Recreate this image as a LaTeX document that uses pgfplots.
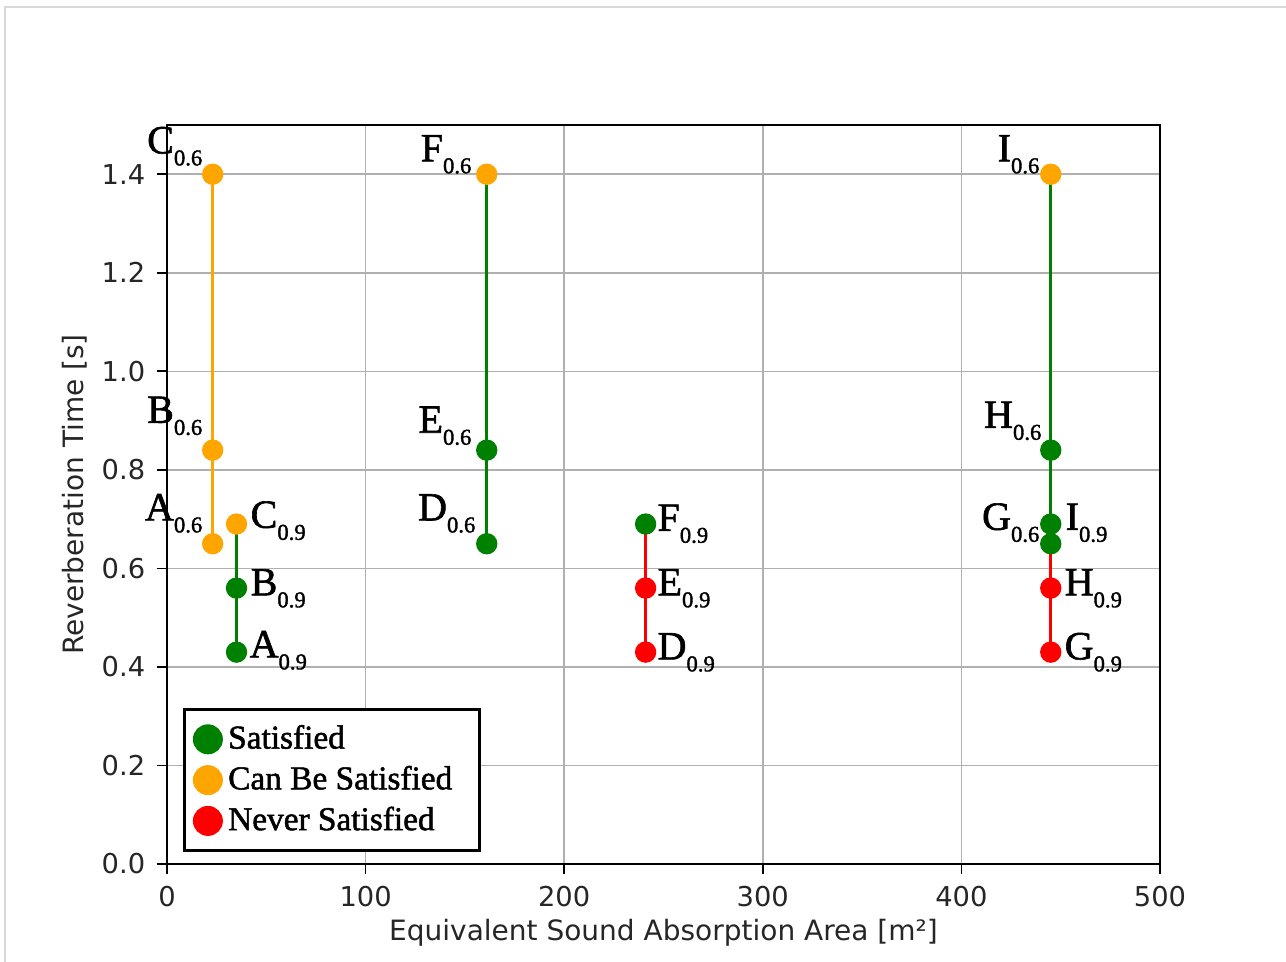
\documentclass[border=0pt]{standalone}
\usepackage{fontspec}
\setmainfont{DejaVu Sans}
\newfontfamily\tnr[FakeBold=1.5]{Liberation Serif}
\usepackage{pgfplots}
\pgfplotsset{compat=1.18}
\definecolor{mgreen}{HTML}{008000}
\definecolor{morange}{HTML}{FFA500}
\definecolor{mred}{HTML}{FF0000}
\definecolor{gridgray}{HTML}{B0B0B0}
\newcommand{\lab}[2]{{\tnr\fontsize{12}{13}\selectfont #1\raisebox{-3.6pt}{\fontsize{6.8}{7}\selectfont #2}}}
\begin{document}
\begin{tikzpicture}
\useasboundingbox (-50.1pt,-29.4pt) rectangle (335.7pt,259.2pt);
\begin{axis}[
  scale only axis,
  width=297.9pt, height=221.7pt,
  xmin=0, xmax=500, ymin=0, ymax=1.5,
  xtick={0,100,200,300,400,500},
  ytick={0,0.2,0.4,0.6,0.8,1.0,1.2,1.4},
  yticklabel style={/pgf/number format/.cd, fixed, fixed zerofill, precision=1},
  /pgf/number format/assume math mode=true,
  tick label style={font=\fontsize{8.2}{9}\selectfont, text=black!85},
  tick align=outside, major tick length=3pt,
  tick style={black, line width=0.5pt},
  xtick pos=bottom, ytick pos=left,
  axis line style={black, line width=0.6pt},
  grid=major, grid style={gridgray, line width=0.45pt},
  xlabel={Equivalent Sound Absorption Area [m²]},
  ylabel={Reverberation Time [s]},
  label style={font=\fontsize{8.4}{9}\selectfont, text=black!85},
  xlabel style={at={(axis description cs:0.5,-0.0934)}, anchor=center},
  ylabel style={at={(axis description cs:-0.0926,0.5)}, anchor=center},
  clip=false,
  legend style={at={(0.016,0.016)}, anchor=south west, draw=black, line width=1pt,
    fill=white, font=\tnr\fontsize{10}{12}\selectfont, inner xsep=2.5pt, inner ysep=3pt,
    row sep=0.5pt, nodes={inner sep=1.6pt}},
  legend cell align=left,
  legend image code/.code={\fill[#1] (3pt,0pt) circle (4pt);},
]
\addlegendimage{mgreen, fill=mgreen}
\addlegendentry{Satisfied}
\addlegendimage{morange, fill=morange}
\addlegendentry{Can Be Satisfied\kern4pt}
\addlegendimage{mred, fill=mred}
\addlegendentry{Never Satisfied}
% vertical lines
\addplot[morange, line width=0.9pt, forget plot] coordinates {(23,0.65) (23,1.4)};
\addplot[mgreen, line width=0.9pt, forget plot] coordinates {(35,0.43) (35,0.69)};
\addplot[mgreen, line width=0.9pt, forget plot] coordinates {(161,0.65) (161,1.4)};
\addplot[mred, line width=0.9pt, forget plot] coordinates {(241,0.43) (241,0.69)};
\addplot[mred, line width=0.9pt, forget plot] coordinates {(445,0.43) (445,0.69)};
\addplot[mgreen, line width=0.9pt, forget plot] coordinates {(445,0.65) (445,1.4)};
% markers
\addplot[only marks, mark=*, mark size=3pt, morange, mark options={fill=morange, draw=morange}, forget plot]
  coordinates {(23,1.4) (23,0.84) (23,0.65) (35,0.69) (161,1.4) (445,1.4)};
\addplot[only marks, mark=*, mark size=3pt, mred, mark options={fill=mred, draw=mred}, forget plot]
  coordinates {(241,0.56) (241,0.43) (445,0.56) (445,0.43)};
\addplot[only marks, mark=*, mark size=3pt, mgreen, mark options={fill=mgreen, draw=mgreen}, forget plot]
  coordinates {(35,0.56) (35,0.43) (161,0.84) (161,0.65) (241,0.69) (445,0.84) (445,0.65) (445,0.69)};
% point labels
\node[anchor=south east, inner sep=0pt] at (axis cs:18.1,1.416) {\lab{C}{0.6}};
\node[anchor=south east, inner sep=0pt] at (axis cs:18.1,0.869) {\lab{B}{0.6}};
\node[anchor=south east, inner sep=0pt] at (axis cs:18.1,0.671) {\lab{A}{0.6}};
\node[anchor=south east, inner sep=0pt] at (axis cs:153.6,1.400) {\lab{F}{0.6}};
\node[anchor=south east, inner sep=0pt] at (axis cs:153.6,0.849) {\lab{E}{0.6}};
\node[anchor=south east, inner sep=0pt] at (axis cs:155.6,0.671) {\lab{D}{0.6}};
\node[anchor=south east, inner sep=0pt] at (axis cs:439.6,1.400) {\lab{I}{0.6}};
\node[anchor=south east, inner sep=0pt] at (axis cs:440.6,0.859) {\lab{H}{0.6}};
\node[anchor=south east, inner sep=0pt] at (axis cs:439.6,0.652) {\lab{G}{0.6}};
\node[anchor=south west, inner sep=0pt] at (axis cs:41.8,0.656) {\lab{C}{0.9}};
\node[anchor=south west, inner sep=0pt] at (axis cs:41.8,0.519) {\lab{B}{0.9}};
\node[anchor=south west, inner sep=0pt] at (axis cs:41.3,0.393) {\lab{A}{0.9}};
\node[anchor=south west, inner sep=0pt] at (axis cs:246.7,0.650) {\lab{F}{0.9}};
\node[anchor=south west, inner sep=0pt] at (axis cs:246.7,0.519) {\lab{E}{0.9}};
\node[anchor=south west, inner sep=0pt] at (axis cs:246.7,0.389) {\lab{D}{0.9}};
\node[anchor=south west, inner sep=0pt] at (axis cs:452.2,0.652) {\lab{I}{0.9}};
\node[anchor=south west, inner sep=0pt] at (axis cs:451.7,0.519) {\lab{H}{0.9}};
\node[anchor=south west, inner sep=0pt] at (axis cs:451.7,0.389) {\lab{G}{0.9}};
\end{axis}
\draw[black!15, line width=0.6pt] (-48.6pt,-29.4pt) -- (-48.6pt,257.1pt) -- (335.7pt,257.1pt);
\end{tikzpicture}
\end{document}
